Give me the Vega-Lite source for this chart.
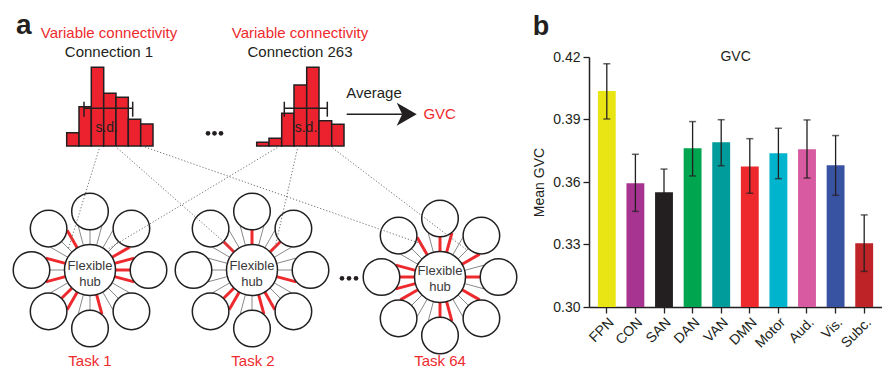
{
  "$schema": "https://vega.github.io/schema/vega-lite/v6.json",
  "background": "white",
  "padding": {"left": 0, "top": 11, "right": 0, "bottom": 0},
  "spacing": 12,
  "config": {"font": "Liberation Sans", "view": {"stroke": null}},
  "datasets": {
    "spokes": [
      {"x":115.5,"y":270,"x2":130,"y2":270,"c":"red"},
      {"x":114.6,"y":276.6,"x2":134.2,"y2":281.9,"c":"red"},
      {"x":112.1,"y":282.8,"x2":129.7,"y2":292.9,"c":"gray"},
      {"x":108,"y":288,"x2":118.3,"y2":298.3,"c":"gray"},
      {"x":102.8,"y":292.1,"x2":112.9,"y2":309.7,"c":"gray"},
      {"x":96.6,"y":294.6,"x2":101.9,"y2":314.2,"c":"red"},
      {"x":90,"y":295.5,"x2":90,"y2":310,"c":"gray"},
      {"x":83.4,"y":294.6,"x2":78.2,"y2":314.2,"c":"gray"},
      {"x":77.3,"y":292.1,"x2":67.1,"y2":309.7,"c":"red"},
      {"x":72,"y":288,"x2":61.7,"y2":298.3,"c":"red"},
      {"x":67.9,"y":282.8,"x2":50.3,"y2":292.9,"c":"gray"},
      {"x":65.4,"y":276.6,"x2":45.8,"y2":281.9,"c":"red"},
      {"x":64.5,"y":270,"x2":50,"y2":270,"c":"gray"},
      {"x":65.4,"y":263.4,"x2":45.8,"y2":258.1,"c":"red"},
      {"x":67.9,"y":257.3,"x2":50.3,"y2":247.1,"c":"gray"},
      {"x":72,"y":252,"x2":61.7,"y2":241.7,"c":"gray"},
      {"x":77.3,"y":247.9,"x2":67.1,"y2":230.3,"c":"red"},
      {"x":83.4,"y":245.4,"x2":78.2,"y2":225.8,"c":"gray"},
      {"x":90,"y":244.5,"x2":90,"y2":230,"c":"gray"},
      {"x":96.6,"y":245.4,"x2":101.9,"y2":225.8,"c":"gray"},
      {"x":102.8,"y":247.9,"x2":112.9,"y2":230.3,"c":"gray"},
      {"x":108,"y":252,"x2":118.3,"y2":241.7,"c":"gray"},
      {"x":112.1,"y":257.3,"x2":129.7,"y2":247.1,"c":"red"},
      {"x":114.6,"y":263.4,"x2":134.2,"y2":258.1,"c":"red"},
      {"x":277.5,"y":270,"x2":292,"y2":270,"c":"gray"},
      {"x":276.6,"y":276.6,"x2":296.2,"y2":281.9,"c":"red"},
      {"x":274.1,"y":282.8,"x2":291.7,"y2":292.9,"c":"gray"},
      {"x":270,"y":288,"x2":280.3,"y2":298.3,"c":"gray"},
      {"x":264.8,"y":292.1,"x2":274.9,"y2":309.7,"c":"red"},
      {"x":258.6,"y":294.6,"x2":263.9,"y2":314.2,"c":"red"},
      {"x":252,"y":295.5,"x2":252,"y2":310,"c":"gray"},
      {"x":245.4,"y":294.6,"x2":240.2,"y2":314.2,"c":"gray"},
      {"x":239.3,"y":292.1,"x2":229.1,"y2":309.7,"c":"red"},
      {"x":234,"y":288,"x2":223.7,"y2":298.3,"c":"red"},
      {"x":229.9,"y":282.8,"x2":212.3,"y2":292.9,"c":"gray"},
      {"x":227.4,"y":276.6,"x2":207.8,"y2":281.9,"c":"gray"},
      {"x":226.5,"y":270,"x2":212,"y2":270,"c":"gray"},
      {"x":227.4,"y":263.4,"x2":207.8,"y2":258.1,"c":"gray"},
      {"x":229.9,"y":257.3,"x2":212.3,"y2":247.1,"c":"gray"},
      {"x":234,"y":252,"x2":223.7,"y2":241.7,"c":"red"},
      {"x":239.3,"y":247.9,"x2":229.1,"y2":230.3,"c":"gray"},
      {"x":245.4,"y":245.4,"x2":240.2,"y2":225.8,"c":"gray"},
      {"x":252,"y":244.5,"x2":252,"y2":230,"c":"red"},
      {"x":258.6,"y":245.4,"x2":263.9,"y2":225.8,"c":"gray"},
      {"x":264.8,"y":247.9,"x2":274.9,"y2":230.3,"c":"gray"},
      {"x":270,"y":252,"x2":280.3,"y2":241.7,"c":"red"},
      {"x":274.1,"y":257.3,"x2":291.7,"y2":247.1,"c":"gray"},
      {"x":276.6,"y":263.4,"x2":296.2,"y2":258.1,"c":"gray"},
      {"x":465.5,"y":277,"x2":480,"y2":277,"c":"red"},
      {"x":464.6,"y":283.6,"x2":484.2,"y2":288.9,"c":"gray"},
      {"x":462.1,"y":289.8,"x2":479.7,"y2":299.9,"c":"red"},
      {"x":458,"y":295,"x2":468.3,"y2":305.3,"c":"gray"},
      {"x":452.8,"y":299.1,"x2":462.9,"y2":316.7,"c":"gray"},
      {"x":446.6,"y":301.6,"x2":451.9,"y2":321.2,"c":"red"},
      {"x":440,"y":302.5,"x2":440,"y2":317,"c":"red"},
      {"x":433.4,"y":301.6,"x2":428.2,"y2":321.2,"c":"gray"},
      {"x":427.3,"y":299.1,"x2":417.1,"y2":316.7,"c":"gray"},
      {"x":422,"y":295,"x2":411.7,"y2":305.3,"c":"gray"},
      {"x":417.9,"y":289.8,"x2":400.3,"y2":299.9,"c":"red"},
      {"x":415.4,"y":283.6,"x2":395.8,"y2":288.9,"c":"red"},
      {"x":414.5,"y":277,"x2":400,"y2":277,"c":"red"},
      {"x":415.4,"y":270.4,"x2":395.8,"y2":265.1,"c":"red"},
      {"x":417.9,"y":264.3,"x2":400.3,"y2":254.1,"c":"gray"},
      {"x":422,"y":259,"x2":411.7,"y2":248.7,"c":"gray"},
      {"x":427.3,"y":254.9,"x2":417.1,"y2":237.3,"c":"red"},
      {"x":433.4,"y":252.4,"x2":428.2,"y2":232.8,"c":"gray"},
      {"x":440,"y":251.5,"x2":440,"y2":237,"c":"red"},
      {"x":446.6,"y":252.4,"x2":451.9,"y2":232.8,"c":"red"},
      {"x":452.8,"y":254.9,"x2":462.9,"y2":237.3,"c":"gray"},
      {"x":458,"y":259,"x2":468.3,"y2":248.7,"c":"gray"},
      {"x":462.1,"y":264.3,"x2":479.7,"y2":254.1,"c":"red"},
      {"x":464.6,"y":270.4,"x2":484.2,"y2":265.1,"c":"gray"}
    ],
    "nodes": [
      {"x":148.5,"y":270},{"x":131.4,"y":311.4},{"x":90,"y":328.5},{"x":48.6,"y":311.4},
      {"x":31.5,"y":270},{"x":48.6,"y":228.6},{"x":90,"y":211.5},{"x":131.4,"y":228.6},
      {"x":310.5,"y":270},{"x":293.4,"y":311.4},{"x":252,"y":328.5},{"x":210.6,"y":311.4},
      {"x":193.5,"y":270},{"x":210.6,"y":228.6},{"x":252,"y":211.5},{"x":293.4,"y":228.6},
      {"x":498.5,"y":277},{"x":481.4,"y":318.4},{"x":440,"y":335.5},{"x":398.6,"y":318.4},
      {"x":381.5,"y":277},{"x":398.6,"y":235.6},{"x":440,"y":218.5},{"x":481.4,"y":235.6}
    ],
    "hubs": [{"x":90,"y":270},{"x":252,"y":270},{"x":440,"y":277}],
    "hist": [
      {"x":66.7,"x2":79,"top":132.7},{"x":79,"x2":91.3,"top":106.7},{"x":91.3,"x2":103.7,"top":67.3},
      {"x":103.7,"x2":116,"top":93.3},{"x":116,"x2":128.3,"top":97.3},{"x":128.3,"x2":140.7,"top":119.3},
      {"x":140.7,"x2":153,"top":124},
      {"x":256.7,"x2":269,"top":142.3},{"x":269,"x2":281.7,"top":138.3},{"x":281.7,"x2":294,"top":113.3},
      {"x":294,"x2":306.7,"top":85},{"x":306.7,"x2":319,"top":67.3},{"x":319,"x2":331.7,"top":120.7},
      {"x":331.7,"x2":344,"top":124.3}
    ],
    "lines": [
      {"x":84,"y":108.3,"x2":132.7,"y2":108.3,"k":"solid"},
      {"x":84,"y":101.7,"x2":84,"y2":116.7,"k":"solid"},
      {"x":132.7,"y":101.7,"x2":132.7,"y2":116.7,"k":"solid"},
      {"x":284.3,"y":108.3,"x2":327.3,"y2":108.3,"k":"solid"},
      {"x":284.3,"y":101.7,"x2":284.3,"y2":116.7,"k":"solid"},
      {"x":327.3,"y":101.7,"x2":327.3,"y2":116.7,"k":"solid"},
      {"x":346.7,"y":114.3,"x2":402,"y2":114.3,"k":"solid"},
      {"x":100,"y":146,"x2":68,"y2":250,"k":"dot"},
      {"x":115,"y":146,"x2":233,"y2":250,"k":"dot"},
      {"x":142,"y":146,"x2":422,"y2":244,"k":"dot"},
      {"x":280,"y":146,"x2":108,"y2":249,"k":"dot"},
      {"x":298,"y":146,"x2":275,"y2":248,"k":"dot"},
      {"x":330,"y":146,"x2":467,"y2":250,"k":"dot"}
    ],
    "arrow": [{"x":406.7,"y":114.3}],
    "dots": [
      {"x":208,"y":133.3},{"x":214.5,"y":133.3},{"x":221,"y":133.3},
      {"x":342,"y":278.3},{"x":349,"y":278.3},{"x":356,"y":278.3}
    ],
    "texts": [
      {"t":"Variable connectivity","x":109,"y":37.5,"k":"red"},
      {"t":"Variable connectivity","x":300,"y":37.5,"k":"red"},
      {"t":"GVC","x":439.7,"y":119,"k":"red"},
      {"t":"Task 1","x":90,"y":366,"k":"red"},
      {"t":"Task 2","x":253,"y":366,"k":"red"},
      {"t":"Task 64","x":440,"y":366,"k":"red"},
      {"t":"Connection 1","x":109,"y":57,"k":"black"},
      {"t":"Connection 263","x":300,"y":57,"k":"black"},
      {"t":"Average","x":374,"y":98,"k":"black"},
      {"t":"s.d.","x":106.7,"y":132,"k":"sd"},
      {"t":"s.d.","x":306,"y":132,"k":"sd"},
      {"t":"Flexible","x":90,"y":270,"k":"hub"},
      {"t":"hub","x":90,"y":286,"k":"hub"},
      {"t":"Flexible","x":252,"y":270,"k":"hub"},
      {"t":"hub","x":252,"y":286,"k":"hub"},
      {"t":"Flexible","x":440,"y":275,"k":"hub"},
      {"t":"hub","x":440,"y":291,"k":"hub"},
      {"t":"a","x":16,"y":33.5,"k":"panel"}
    ],
    "gvc": [
      {"network":"FPN","mean":0.4037,"lo":0.3902,"hi":0.4168},
      {"network":"CON","mean":0.3594,"lo":0.3459,"hi":0.3733},
      {"network":"SAN","mean":0.3551,"lo":0.3440,"hi":0.3662},
      {"network":"DAN","mean":0.3762,"lo":0.3629,"hi":0.3890},
      {"network":"VAN","mean":0.3791,"lo":0.3678,"hi":0.3899},
      {"network":"DMN","mean":0.3675,"lo":0.3546,"hi":0.3808},
      {"network":"Motor","mean":0.3738,"lo":0.3616,"hi":0.3858},
      {"network":"Aud.","mean":0.3757,"lo":0.3619,"hi":0.3898},
      {"network":"Vis.","mean":0.3680,"lo":0.3536,"hi":0.3823},
      {"network":"Subc.","mean":0.3306,"lo":0.3171,"hi":0.3442}
    ]
  },
  "hconcat": [
    {
      "width": 520,
      "height": 313,
      "layer": [
        {
          "data": {"name": "spokes"},
          "transform": [{"filter": "datum.c === 'gray'"}],
          "mark": {"type": "rule", "color": "#7a7a7a", "strokeWidth": 0.9},
          "encoding": {
            "x": {"field": "x", "type": "quantitative", "scale": {"domain": [0, 520], "nice": false, "zero": false}, "axis": null},
            "y": {"field": "y", "type": "quantitative", "scale": {"domain": [57, 370], "nice": false, "zero": false, "reverse": true}, "axis": null},
            "x2": {"field": "x2"},
            "y2": {"field": "y2"}
          }
        },
        {
          "data": {"name": "spokes"},
          "transform": [{"filter": "datum.c === 'red'"}],
          "mark": {"type": "rule", "color": "#ee2a2e", "strokeWidth": 3},
          "encoding": {
            "x": {"field": "x", "type": "quantitative", "scale": {"domain": [0, 520], "nice": false, "zero": false}, "axis": null},
            "y": {"field": "y", "type": "quantitative", "scale": {"domain": [57, 370], "nice": false, "zero": false, "reverse": true}, "axis": null},
            "x2": {"field": "x2"},
            "y2": {"field": "y2"}
          }
        },
        {
          "data": {"name": "nodes"},
          "mark": {"type": "point", "shape": "circle", "size": 1340, "filled": true, "fill": "white", "stroke": "#231f20", "strokeWidth": 1.5, "opacity": 1},
          "encoding": {
            "x": {"field": "x", "type": "quantitative", "scale": {"domain": [0, 520], "nice": false, "zero": false}, "axis": null},
            "y": {"field": "y", "type": "quantitative", "scale": {"domain": [57, 370], "nice": false, "zero": false, "reverse": true}, "axis": null}
          }
        },
        {
          "data": {"name": "hubs"},
          "mark": {"type": "point", "shape": "circle", "size": 2601, "filled": true, "fill": "white", "stroke": "#231f20", "strokeWidth": 1.5, "opacity": 1},
          "encoding": {
            "x": {"field": "x", "type": "quantitative", "scale": {"domain": [0, 520], "nice": false, "zero": false}, "axis": null},
            "y": {"field": "y", "type": "quantitative", "scale": {"domain": [57, 370], "nice": false, "zero": false, "reverse": true}, "axis": null}
          }
        },
        {
          "data": {"name": "hist"},
          "mark": {"type": "rect", "fill": "#ec232e", "stroke": "#231f20", "strokeWidth": 1.5},
          "encoding": {
            "x": {"field": "x", "type": "quantitative", "scale": {"domain": [0, 520], "nice": false, "zero": false}, "axis": null},
            "x2": {"field": "x2"},
            "y": {"field": "top", "type": "quantitative", "scale": {"domain": [57, 370], "nice": false, "zero": false, "reverse": true}, "axis": null},
            "y2": {"datum": 146}
          }
        },
        {
          "data": {"name": "lines"},
          "transform": [{"filter": "datum.k === 'solid'"}],
          "mark": {"type": "rule", "color": "#231f20", "strokeWidth": 1.5},
          "encoding": {
            "x": {"field": "x", "type": "quantitative", "scale": {"domain": [0, 520], "nice": false, "zero": false}, "axis": null},
            "y": {"field": "y", "type": "quantitative", "scale": {"domain": [57, 370], "nice": false, "zero": false, "reverse": true}, "axis": null},
            "x2": {"field": "x2"},
            "y2": {"field": "y2"}
          }
        },
        {
          "data": {"name": "lines"},
          "transform": [{"filter": "datum.k === 'dot'"}],
          "mark": {"type": "rule", "color": "#6d6e71", "strokeWidth": 1, "strokeDash": [1.2, 2]},
          "encoding": {
            "x": {"field": "x", "type": "quantitative", "scale": {"domain": [0, 520], "nice": false, "zero": false}, "axis": null},
            "y": {"field": "y", "type": "quantitative", "scale": {"domain": [57, 370], "nice": false, "zero": false, "reverse": true}, "axis": null},
            "x2": {"field": "x2"},
            "y2": {"field": "y2"}
          }
        },
        {
          "data": {"name": "arrow"},
          "mark": {"type": "point", "shape": "M1,0L-1,-1.15L-0.45,0L-1,1.15Z", "size": 400, "filled": true, "fill": "#231f20", "opacity": 1, "strokeWidth": 0},
          "encoding": {
            "x": {"field": "x", "type": "quantitative", "scale": {"domain": [0, 520], "nice": false, "zero": false}, "axis": null},
            "y": {"field": "y", "type": "quantitative", "scale": {"domain": [57, 370], "nice": false, "zero": false, "reverse": true}, "axis": null}
          }
        },
        {
          "data": {"name": "dots"},
          "mark": {"type": "point", "shape": "circle", "size": 22, "filled": true, "fill": "#231f20", "opacity": 1},
          "encoding": {
            "x": {"field": "x", "type": "quantitative", "scale": {"domain": [0, 520], "nice": false, "zero": false}, "axis": null},
            "y": {"field": "y", "type": "quantitative", "scale": {"domain": [57, 370], "nice": false, "zero": false, "reverse": true}, "axis": null}
          }
        },
        {
          "data": {"name": "texts"},
          "transform": [{"filter": "datum.k === 'red'"}],
          "mark": {"type": "text", "fontSize": 15, "color": "#ee2a2e", "align": "center", "baseline": "alphabetic", "font": "Liberation Sans"},
          "encoding": {
            "x": {"field": "x", "type": "quantitative", "scale": {"domain": [0, 520], "nice": false, "zero": false}, "axis": null},
            "y": {"field": "y", "type": "quantitative", "scale": {"domain": [57, 370], "nice": false, "zero": false, "reverse": true}, "axis": null},
            "text": {"field": "t"}
          }
        },
        {
          "data": {"name": "texts"},
          "transform": [{"filter": "datum.k === 'black'"}],
          "mark": {"type": "text", "fontSize": 15, "color": "#231f20", "align": "center", "baseline": "alphabetic", "font": "Liberation Sans"},
          "encoding": {
            "x": {"field": "x", "type": "quantitative", "scale": {"domain": [0, 520], "nice": false, "zero": false}, "axis": null},
            "y": {"field": "y", "type": "quantitative", "scale": {"domain": [57, 370], "nice": false, "zero": false, "reverse": true}, "axis": null},
            "text": {"field": "t"}
          }
        },
        {
          "data": {"name": "texts"},
          "transform": [{"filter": "datum.k === 'sd'"}],
          "mark": {"type": "text", "fontSize": 14, "color": "#231f20", "align": "center", "baseline": "alphabetic", "font": "Liberation Sans"},
          "encoding": {
            "x": {"field": "x", "type": "quantitative", "scale": {"domain": [0, 520], "nice": false, "zero": false}, "axis": null},
            "y": {"field": "y", "type": "quantitative", "scale": {"domain": [57, 370], "nice": false, "zero": false, "reverse": true}, "axis": null},
            "text": {"field": "t"}
          }
        },
        {
          "data": {"name": "texts"},
          "transform": [{"filter": "datum.k === 'hub'"}],
          "mark": {"type": "text", "fontSize": 13, "color": "#3a3a3a", "align": "center", "baseline": "alphabetic", "font": "Liberation Sans"},
          "encoding": {
            "x": {"field": "x", "type": "quantitative", "scale": {"domain": [0, 520], "nice": false, "zero": false}, "axis": null},
            "y": {"field": "y", "type": "quantitative", "scale": {"domain": [57, 370], "nice": false, "zero": false, "reverse": true}, "axis": null},
            "text": {"field": "t"}
          }
        },
        {
          "data": {"name": "texts"},
          "transform": [{"filter": "datum.k === 'panel'"}],
          "mark": {"type": "text", "fontSize": 28, "fontWeight": "bold", "color": "#231f20", "align": "left", "baseline": "alphabetic", "font": "Liberation Sans"},
          "encoding": {
            "x": {"field": "x", "type": "quantitative", "scale": {"domain": [0, 520], "nice": false, "zero": false}, "axis": null},
            "y": {"field": "y", "type": "quantitative", "scale": {"domain": [57, 370], "nice": false, "zero": false, "reverse": true}, "axis": null},
            "text": {"field": "t"}
          }
        }
      ]
    },
    {
      "width": 293,
      "height": 250,
      "title": {"text": "b", "anchor": "start", "frame": "bounds", "fontSize": 27, "fontWeight": "bold", "color": "#231f20", "baseline": "alphabetic", "offset": -12, "font": "Liberation Sans"},
      "data": {"name": "gvc"},
      "layer": [
        {
          "mark": {"type": "bar", "clip": true},
          "encoding": {
            "x": {
              "field": "network", "type": "nominal", "sort": null,
              "scale": {"domain": ["FPN","CON","SAN","DAN","VAN","DMN","Motor","Aud.","Vis.","Subc."], "paddingInner": 0.375, "paddingOuter": 0.31},
              "axis": {"title": null, "labelAngle": -45, "labelFontSize": 14, "labelColor": "#231f20", "labelFont": "Liberation Sans", "tickSize": 6, "tickColor": "#231f20", "tickWidth": 1.3, "domainColor": "#231f20", "domainWidth": 1.5, "labelPadding": 2}
            },
            "y": {
              "field": "mean", "type": "quantitative",
              "scale": {"domain": [0.30, 0.42], "nice": false, "zero": false},
              "axis": {"title": "Mean GVC", "values": [0.30, 0.33, 0.36, 0.39, 0.42], "format": ".2f", "grid": false, "labelFontSize": 14, "labelColor": "#231f20", "labelFont": "Liberation Sans", "titleFontSize": 14, "titleFont": "Liberation Sans", "titleFontWeight": "normal", "titleColor": "#231f20", "titlePadding": 6, "tickSize": 6, "tickColor": "#231f20", "tickWidth": 1.3, "domainColor": "#231f20", "domainWidth": 1.5, "labelPadding": 3}
            },
            "color": {
              "field": "network", "type": "nominal",
              "scale": {"domain": ["FPN","CON","SAN","DAN","VAN","DMN","Motor","Aud.","Vis.","Subc."], "range": ["#e9e514","#a83492","#231f20","#00a550","#009b9b","#ed292e","#00b4ce","#d85aa0","#3953a3","#be2328"]},
              "legend": null
            }
          }
        },
        {
          "mark": {"type": "rule", "color": "#231f20", "strokeWidth": 1.3},
          "encoding": {
            "x": {"field": "network", "type": "nominal"},
            "y": {"field": "lo", "type": "quantitative"},
            "y2": {"field": "hi"}
          }
        },
        {
          "mark": {"type": "tick", "color": "#231f20", "thickness": 1.5, "size": 7, "orient": "horizontal"},
          "encoding": {
            "x": {"field": "network", "type": "nominal"},
            "y": {"field": "hi", "type": "quantitative"}
          }
        },
        {
          "mark": {"type": "tick", "color": "#231f20", "thickness": 1.5, "size": 7, "orient": "horizontal"},
          "encoding": {
            "x": {"field": "network", "type": "nominal"},
            "y": {"field": "lo", "type": "quantitative"}
          }
        },
        {
          "data": {"values": [{"t": "GVC"}]},
          "mark": {"type": "text", "fontSize": 14, "color": "#231f20", "baseline": "middle", "align": "center", "dx": 14.4, "font": "Liberation Sans"},
          "encoding": {
            "x": {"datum": "VAN", "type": "nominal"},
            "y": {"datum": 0.42, "type": "quantitative"},
            "text": {"field": "t"}
          }
        }
      ]
    }
  ]
}
